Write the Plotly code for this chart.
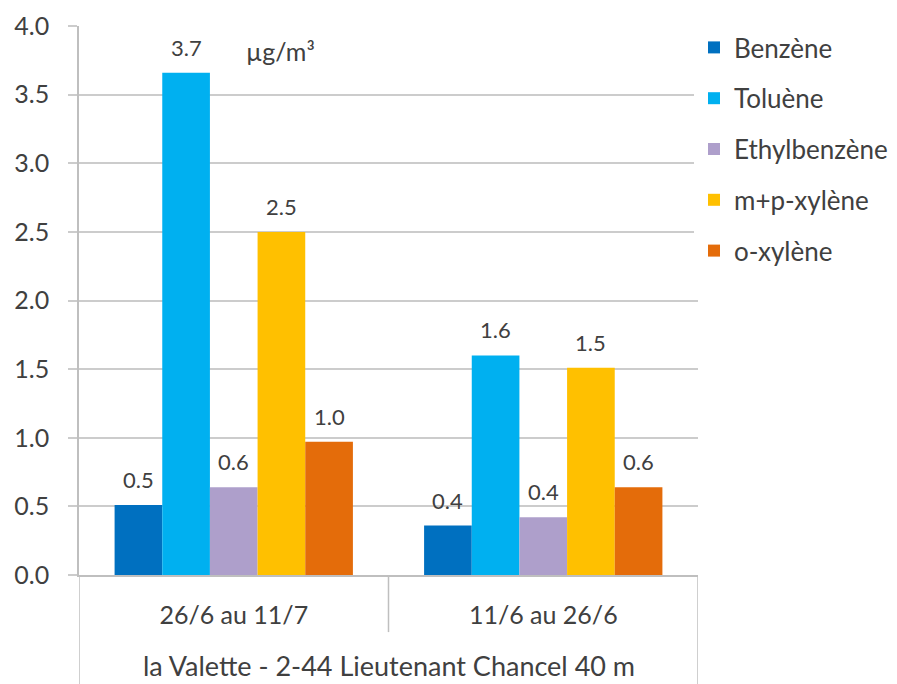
import plotly.graph_objects as go

# Sampling periods and site
periods = ["26/6 au 11/7", "11/6 au 26/6"]
site = "la Valette - 2-44 Lieutenant Chancel 40 m"

# Mean concentrations (µg/m³) per pollutant for each period
pollutants = ["Benzène", "Toluène", "Ethylbenzène", "m+p-xylène", "o-xylène"]
benzene = [0.51, 0.36]
toluene = [3.66, 1.60]
ethylbenzene = [0.64, 0.42]
mp_xylene = [2.50, 1.51]
o_xylene = [0.97, 0.64]
series = [benzene, toluene, ethylbenzene, mp_xylene, o_xylene]

colors = ["#0070C0", "#00B0F0", "#AE9FCB", "#FFC000", "#E46C0A"]

y_ticks = [0.0, 0.5, 1.0, 1.5, 2.0, 2.5, 3.0, 3.5, 4.0]

FONT = "Lato"
TXT = "#404040"
GRID = "#CCCCCC"
BARGAP = 0.23

fig = go.Figure()
for name, vals, col in zip(pollutants, series, colors):
    fig.add_trace(go.Bar(
        name=name, x=periods, y=vals, marker=dict(color=col, line=dict(width=0)),
        legendgroup=name,
    ))

# value labels above each bar
n = len(series)
w = (1 - BARGAP) / n
annotations = []
for k, vals in enumerate(series):
    for i, v in enumerate(vals):
        annotations.append(dict(
            x=i + (k - (n - 1) / 2) * w, y=v, xref="x", yref="y",
            text=f"{v:.1f}", showarrow=False, yanchor="bottom", yshift=10,
            font=dict(family=FONT, size=22, color=TXT),
        ))

annotations.append(dict(
    x=0.5, y=-0.164, xref="x", yref="paper", yanchor="middle", text=site,
    showarrow=False, font=dict(family=FONT, size=27, color=TXT),
))
annotations.append(dict(
    x=0.15, y=3.82, xref="x", yref="y", yanchor="middle", text="µg/m³",
    showarrow=False, font=dict(family=FONT, size=25, color=TXT),
))
fig.update_layout(annotations=annotations)

# category box below the x axis
line = dict(color="#BFBFBF", width=1.5)
shapes = [
    dict(type="line", xref="x", yref="paper", x0=-0.5, x1=-0.5, y0=0, y1=-0.2, line=line),
    dict(type="line", xref="x", yref="paper", x0=1.5, x1=1.5, y0=0, y1=-0.2, line=line),
    dict(type="line", xref="x", yref="paper", x0=0.5, x1=0.5, y0=0, y1=-0.104, line=line),
]
fig.update_layout(shapes=shapes)

fig.update_layout(
    width=897, height=684,
    margin=dict(l=79, r=199, t=26, b=109, autoexpand=False),
    paper_bgcolor="white", plot_bgcolor="white",
    barmode="group", bargap=BARGAP, bargroupgap=0,
    font=dict(family=FONT, color=TXT),
    xaxis=dict(
        range=[-0.5, 1.5], showgrid=False, showline=True, linecolor="#BFBFBF", linewidth=1.5,
        ticks="", tickfont=dict(family=FONT, size=25, color=TXT), ticklabelstandoff=17,
    ),
    yaxis=dict(
        range=[0, 4], tickvals=y_ticks, tickformat=".1f",
        showgrid=True, gridcolor=GRID, gridwidth=1.5,
        showline=True, linecolor="#BFBFBF", linewidth=1.5,
        ticks="outside", ticklen=9, tickcolor=GRID, tickwidth=1.5,
        ticklabelstandoff=14, zeroline=False,
        tickfont=dict(family=FONT, size=25, color=TXT),
    ),
    legend=dict(
        xref="container", yref="container",
        x=694 / 897, y=1 - 24 / 684, xanchor="left", yanchor="top",
        font=dict(family=FONT, size=26, color=TXT),
        tracegroupgap=14, itemwidth=30, traceorder="grouped",
    ),
)

fig.write_html("out.html")
